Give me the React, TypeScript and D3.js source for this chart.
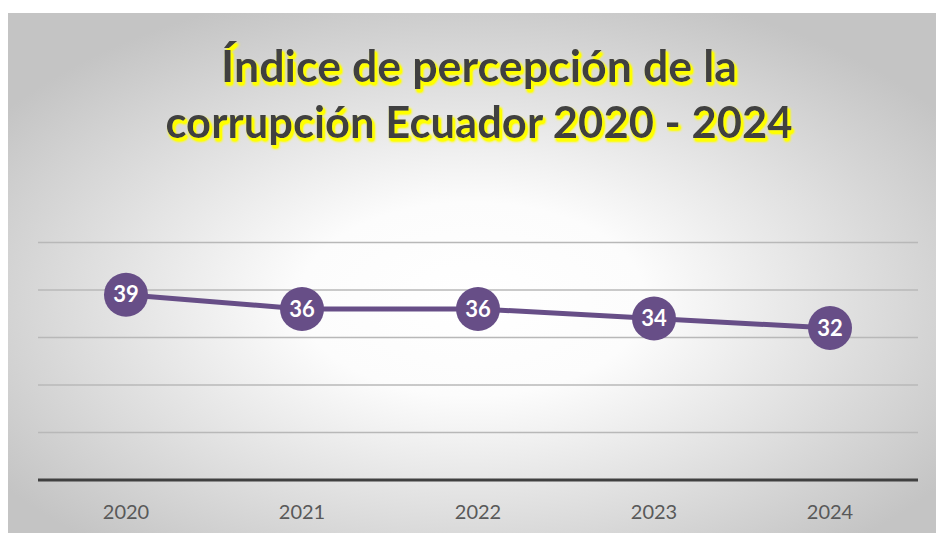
import React from "react";
import * as d3 from "d3";

const years = ["2020", "2021", "2022", "2023", "2024"];
const values = [39, 36, 36, 34, 32];
const gridTicks = [10, 20, 30, 40, 50];
const titleLines = ["Índice de percepción de la", "corrupción Ecuador 2020 - 2024"];
const titleWidths = [516, 627];

export default function App() {
  const W = 936, H = 533;
  const panel = { x: 8, y: 13, w: W - 8, h: H - 13 };
  const x = d3.scaleBand<string>().domain(years).range([38, 918]);
  const y = d3.scaleLinear().domain([0, 50]).range([480, 242.5]);
  const line = d3.line<number>()
    .x((_, i) => (x(years[i]) as number) + x.bandwidth() / 2)
    .y((d) => y(d));
  const purple = "#674e87";
  return (
    <svg width={W} height={H} style={{ position: "fixed", left: 0, top: 0 }}>
      <defs>
        <radialGradient id="bg" cx="0.5" cy="0.55" r="0.62" gradientUnits="objectBoundingBox">
          <stop offset="0" stopColor="#ffffff" />
          <stop offset="0.3" stopColor="#fcfcfc" />
          <stop offset="1" stopColor="#c4c4c4" />
        </radialGradient>
        <filter id="glow" x="-10%" y="-30%" width="120%" height="160%">
          <feOffset in="SourceAlpha" dx="2" dy="2.5" result="off" />
          <feGaussianBlur in="off" stdDeviation="1.8" result="blur" />
          <feFlood floodColor="#ffff00" result="col" />
          <feComposite in="col" in2="blur" operator="in" result="shadow" />
          <feComponentTransfer in="shadow" result="shadow2">
            <feFuncA type="linear" slope="2.2" />
          </feComponentTransfer>
          <feMerge>
            <feMergeNode in="shadow2" />
            <feMergeNode in="SourceGraphic" />
          </feMerge>
        </filter>
      </defs>
      <rect x={0} y={0} width={W} height={H} fill="#ffffff" />
      <rect x={panel.x} y={panel.y} width={panel.w} height={panel.h} fill="url(#bg)" />
      <g filter="url(#glow)">
        {titleLines.map((t, i) => (
          <text
            key={i}
            x={479}
            y={82 + i * 56}
            textAnchor="middle"
            fontFamily="Lato, 'Open Sans', sans-serif"
            fontWeight={700}
            fontSize={43}
            textLength={titleWidths[i]}
            lengthAdjust="spacingAndGlyphs"
            fill="#404040"
          >
            {t}
          </text>
        ))}
      </g>
      {gridTicks.map((t) => (
        <line key={t} x1={38} x2={918} y1={y(t)} y2={y(t)} stroke="#b8b8b8" strokeWidth={1.3} />
      ))}
      <line x1={38} x2={918} y1={y(0)} y2={y(0)} stroke="#404040" strokeWidth={3} />
      {years.map((yr) => (
        <text
          key={yr}
          x={(x(yr) as number) + x.bandwidth() / 2}
          y={519}
          textAnchor="middle"
          fontFamily="Lato, 'Open Sans', sans-serif"
          fontSize={20}
          fill="#595959"
        >
          {yr}
        </text>
      ))}
      <path d={line(values) || ""} fill="none" stroke={purple} strokeWidth={5} strokeLinejoin="round" />
      {values.map((v, i) => {
        const cx = (x(years[i]) as number) + x.bandwidth() / 2;
        const cy = y(v);
        return (
          <g key={i}>
            <circle cx={cx} cy={cy} r={22} fill={purple} />
            <text
              x={cx}
              y={cy + 7.5}
              textAnchor="middle"
              fontFamily="Lato, 'Open Sans', sans-serif"
              fontWeight={700}
              fontSize={22}
              fill="#ffffff"
            >
              {v}
            </text>
          </g>
        );
      })}
    </svg>
  );
}
